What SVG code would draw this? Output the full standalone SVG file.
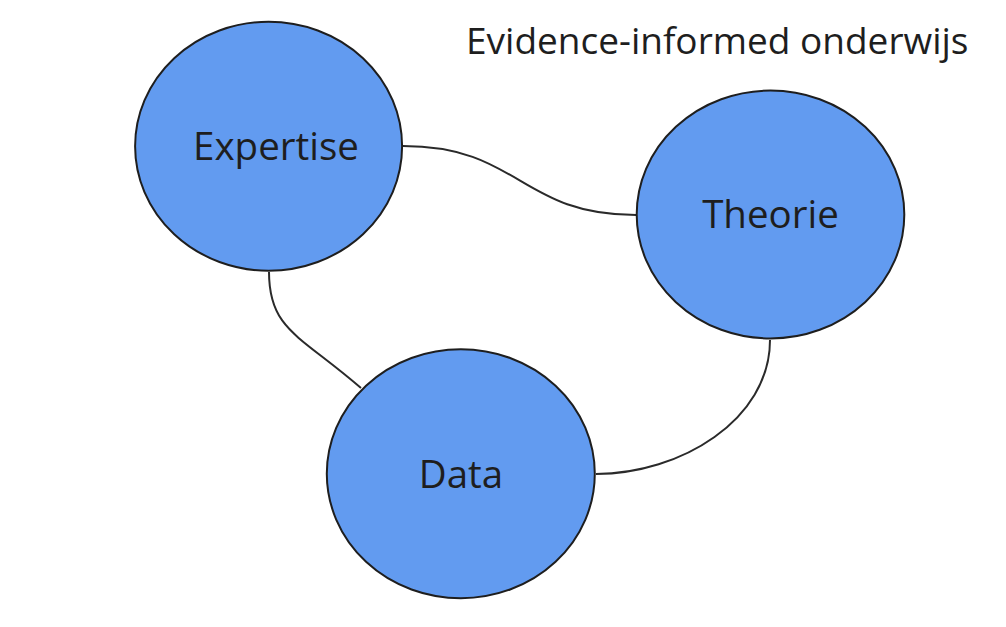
<svg xmlns="http://www.w3.org/2000/svg" width="1006" height="627" viewBox="0 0 1006 627">
<style>
.node ellipse{fill:#629bf0;stroke:#1e1e1e;stroke-width:2}
.label{font-family:"Open Sans","Noto Sans",sans-serif;font-size:38.5px;fill:#1e1e1e;text-anchor:middle}
.title{font-family:"Open Sans","Noto Sans",sans-serif;font-size:37px;fill:#1e1e1e}
.edge{fill:none;stroke:#2a2a2a;stroke-width:2}
</style>
<rect width="1006" height="627" fill="#ffffff"/>
<text class="title" x="466" y="54">Evidence-informed onderwijs</text>
<g id="connectors">
<path class="edge" d="M403,146 C520,146 520,215 636,215"/>
<path class="edge" d="M269,272 C269,330 300,335 361,388"/>
<path class="edge" d="M770,340 C770,420 680,474 596,474"/>
</g>
<g id="expertise" class="node">
<ellipse cx="268.6" cy="146.2" rx="133.5" ry="124.5"/>
<text class="label" x="276" y="160">Expertise</text>
</g>
<g id="theorie" class="node">
<ellipse cx="770.5" cy="214.5" rx="133.8" ry="124"/>
<text class="label" x="770.5" y="228">Theorie</text>
</g>
<g id="data" class="node">
<ellipse cx="460.8" cy="473.7" rx="134" ry="124.5"/>
<text class="label" x="461" y="488">Data</text>
</g>
</svg>
